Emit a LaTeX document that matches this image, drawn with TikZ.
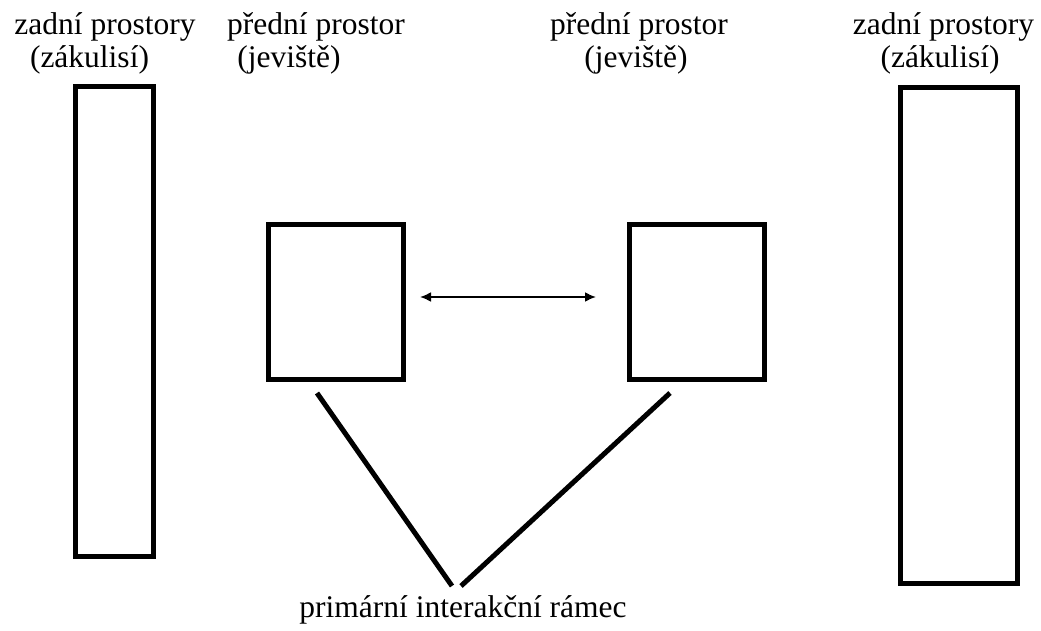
\documentclass[tikz,border=0pt]{standalone}
\usepackage{fontspec}
\setmainfont{Liberation Serif}
\usetikzlibrary{arrows.meta}
\begin{document}
\begin{tikzpicture}[x=1pt,y=-1pt,
  box/.style={draw,line width=5pt,inner sep=0pt},
  lbl/.style={anchor=base,inner sep=0pt,font=\fontsize{31.5}{31.5}\selectfont},
  conn/.style={line width=5pt},
  link/.style={line width=2pt,{Latex[length=11pt,width=10pt]}-{Latex[length=11pt,width=10pt]}}]
\useasboundingbox (0,0) rectangle (1041,631);
% boxes
\node[box,minimum width=78pt,minimum height=470pt] (bl) at (114.5,321.5) {};
\node[box,minimum width=135pt,minimum height=155pt] (fl) at (336,301.5) {};
\node[box,minimum width=135pt,minimum height=155pt] (fr) at (696.5,301.5) {};
\node[box,minimum width=117pt,minimum height=496pt] (br) at (959,335.5) {};
% labels
\node[lbl] (t1a) at (105,34.5) {zadní prostory};
\node[lbl] (t1b) at (89.5,67.5) {(zákulisí)};
\node[lbl] (t2a) at (316,34.5) {přední prostor};
\node[lbl] (t2b) at (289,67.5) {(jeviště)};
\node[lbl] (t3a) at (639,34.5) {přední prostor};
\node[lbl] (t3b) at (636,67.5) {(jeviště)};
\node[lbl] (t4a) at (943.5,34.5) {zadní prostory};
\node[lbl] (t4b) at (940,67.5) {(zákulisí)};
\node[lbl] (pr) at (463,617) {primární interakční rámec};
% connectors
\coordinate (al) at (420,297);
\coordinate (ar) at (596,297);
\draw[link] (al) -- (ar);
\coordinate (l1) at (317,393);
\coordinate (l2) at (452,586);
\coordinate (r1) at (670,393);
\coordinate (r2) at (461,586);
\draw[conn] (l1) -- (l2);
\draw[conn] (r1) -- (r2);
\end{tikzpicture}
\end{document}
